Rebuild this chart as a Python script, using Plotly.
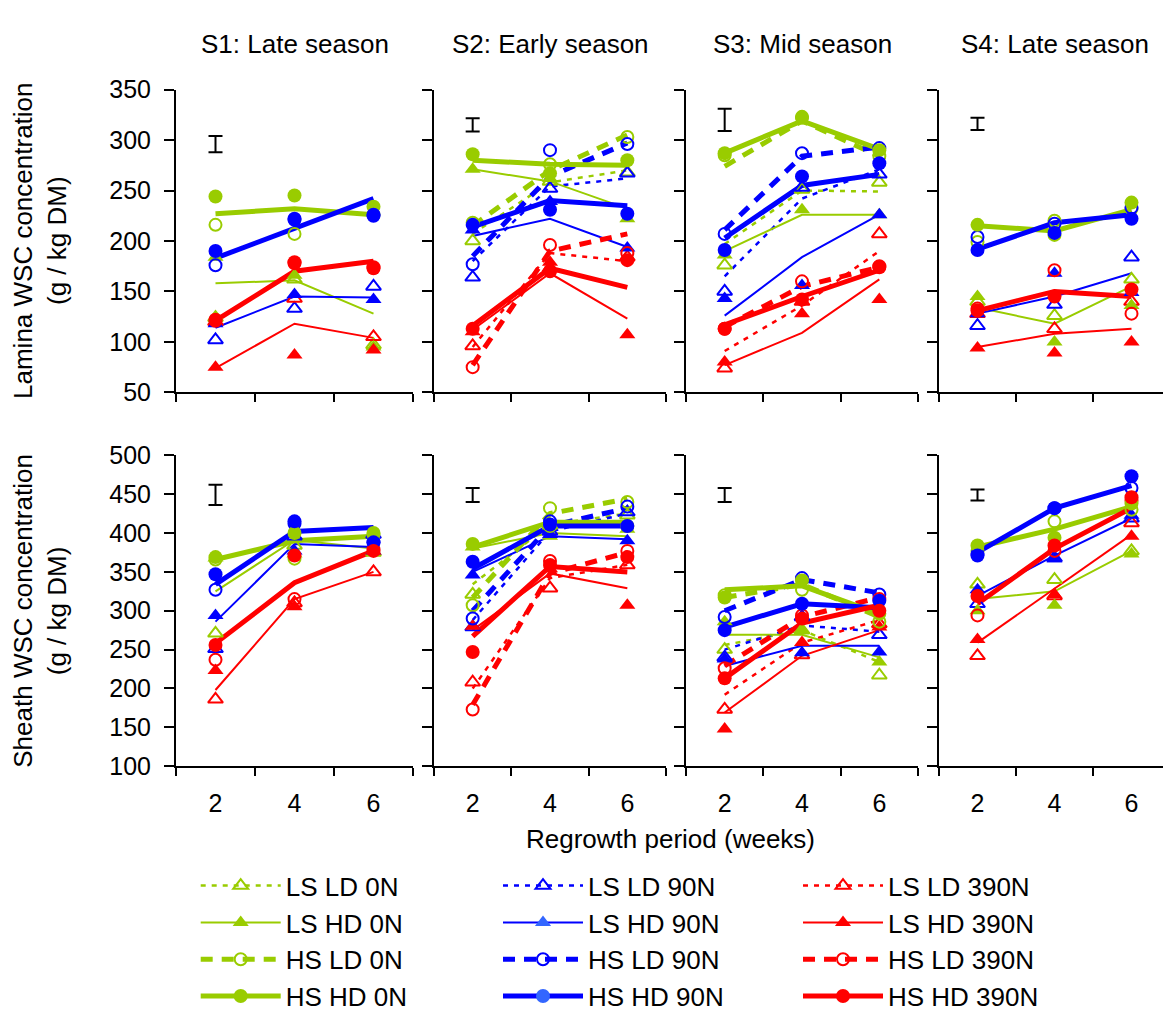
import plotly.graph_objects as go

# ---------------- data ----------------
weeks = [2, 4, 6]
seasons = ["S1: Late season", "S2: Early season", "S3: Mid season", "S4: Late season"]
series = ["LS LD 0N", "LS HD 0N", "HS LD 0N", "HS HD 0N",
          "LS LD 90N", "LS HD 90N", "HS LD 90N", "HS HD 90N",
          "LS LD 390N", "LS HD 390N", "HS LD 390N", "HS HD 390N"]

# Lamina WSC (g/kg DM) - observed means at weeks 2, 4, 6
lamina_s1_obs = {
    "LS LD 0N": [124, 162, 97], "LS HD 0N": [184, 166, 95], "HS LD 0N": [216, 207, 226], "HS HD 0N": [244, 245, 234],
    "LS LD 90N": [102, 133, 155], "LS HD 90N": [118, 147, 142], "HS LD 90N": [176, 221, 225], "HS HD 90N": [190, 222, 226],
    "LS LD 390N": [120, 143, 105], "LS HD 390N": [75, 87, 92], "HS LD 390N": [121, 178, 174], "HS HD 390N": [122, 179, 173]}
lamina_s2_obs = {
    "LS LD 0N": [200, 259, 268], "LS HD 0N": [271, 262, 222], "HS LD 0N": [218, 276, 303], "HS HD 0N": [286, 267, 280],
    "LS LD 90N": [164, 252, 267], "LS HD 90N": [211, 239, 193], "HS LD 90N": [177, 290, 296], "HS HD 90N": [216, 231, 227],
    "LS LD 390N": [96, 173, 184], "LS HD 390N": [110, 179, 107], "HS LD 390N": [75, 196, 188], "HS HD 390N": [113, 170, 181]}
lamina_s3_obs = {
    "LS LD 0N": [176, 251, 258], "LS HD 0N": [186, 231, 226], "HS LD 0N": [285, 322, 284], "HS HD 0N": [287, 323, 290],
    "LS LD 90N": [150, 253, 266], "LS HD 90N": [143, 156, 226], "HS LD 90N": [207, 287, 292], "HS HD 90N": [191, 264, 277],
    "LS LD 390N": [74, 140, 207], "LS HD 390N": [80, 128, 142], "HS LD 390N": [113, 160, 175], "HS HD 390N": [113, 142, 174]}
lamina_s4_obs = {
    "LS LD 0N": [140, 126, 162], "LS HD 0N": [145, 100, 136], "HS LD 0N": [199, 220, 232], "HS HD 0N": [216, 206, 238],
    "LS LD 90N": [116, 137, 184], "LS HD 90N": [128, 168, 149], "HS LD 90N": [204, 217, 233], "HS HD 90N": [191, 208, 222],
    "LS LD 390N": [128, 113, 140], "LS HD 390N": [94, 89, 100], "HS LD 390N": [133, 171, 128], "HS HD 390N": [131, 145, 152]}

# Lamina WSC - fitted response lines (missing key = no line drawn)
lamina_s1_fit = {
    "LS HD 0N": [158, 161, 128], "HS HD 0N": [227, 232, 226],
    "LS HD 90N": [114, 145, 144], "HS HD 90N": [183, 213, 242],
    "LS HD 390N": [74, 118, 104], "HS HD 390N": [121, 170, 180]}
lamina_s2_fit = {
    "LS LD 0N": [207, 258, 270], "LS HD 0N": [271, 259, 232], "HS LD 0N": [215, 270, 305], "HS HD 0N": [280, 276, 275],
    "LS LD 90N": [180, 254, 262], "LS HD 90N": [205, 222, 194], "HS LD 90N": [185, 264, 297], "HS HD 90N": [214, 240, 235],
    "LS LD 390N": [95, 188, 180], "LS HD 390N": [112, 168, 123], "HS LD 390N": [77, 190, 207], "HS HD 390N": [116, 173, 154]}
lamina_s3_fit = {
    "LS LD 0N": [197, 250, 249], "LS HD 0N": [190, 226, 226], "HS LD 0N": [274, 319, 284], "HS HD 0N": [287, 319, 291],
    "LS LD 90N": [165, 242, 271], "LS HD 90N": [126, 184, 226], "HS LD 90N": [211, 284, 293], "HS HD 90N": [203, 255, 266],
    "LS LD 390N": [91, 136, 190], "LS HD 390N": [77, 109, 162], "HS LD 390N": [115, 155, 174], "HS HD 390N": [117, 145, 171]}
lamina_s4_fit = {
    "LS HD 0N": [134, 118, 155], "HS HD 0N": [215, 210, 231],
    "LS HD 90N": [128, 145, 168], "HS HD 90N": [192, 218, 226],
    "LS HD 390N": [95, 108, 113], "HS HD 390N": [131, 150, 145]}

# Sheath WSC (g/kg DM) - observed means
sheath_s1_obs = {
    "LS LD 0N": [271, 384, 375], "LS HD 0N": [368, 373, 377], "HS LD 0N": [366, 367, 398], "HS HD 0N": [369, 400, 400],
    "LS LD 90N": [251, 396, 398], "LS HD 90N": [294, 377, 377], "HS LD 90N": [327, 412, 388], "HS HD 90N": [347, 415, 388],
    "LS LD 390N": [186, 310, 350], "LS HD 390N": [223, 305, 377], "HS LD 390N": [237, 315, 379], "HS HD 390N": [256, 371, 377]}
sheath_s2_obs = {
    "LS LD 0N": [321, 410, 423], "LS HD 0N": [382, 396, 405], "HS LD 0N": [307, 432, 440], "HS HD 0N": [386, 409, 409],
    "LS LD 90N": [279, 402, 427], "LS HD 90N": [346, 398, 390], "HS LD 90N": [290, 415, 434], "HS HD 90N": [363, 411, 409],
    "LS LD 390N": [208, 329, 359], "LS HD 390N": [280, 354, 307], "HS LD 390N": [173, 364, 377], "HS HD 390N": [247, 359, 369]}
sheath_s3_obs = {
    "LS LD 0N": [250, 275, 217], "LS HD 0N": [286, 275, 234], "HS LD 0N": [320, 327, 286], "HS HD 0N": [317, 339, 296],
    "LS LD 90N": [240, 292, 269], "LS HD 90N": [238, 246, 247], "HS LD 90N": [292, 342, 321], "HS HD 90N": [275, 309, 313],
    "LS LD 390N": [173, 243, 283], "LS HD 390N": [148, 259, 279], "HS LD 390N": [226, 294, 315], "HS HD 390N": [213, 290, 300]}
sheath_s4_obs = {
    "LS LD 0N": [334, 340, 377], "LS HD 0N": [300, 307, 373], "HS LD 0N": [377, 415, 430], "HS HD 0N": [384, 394, 438],
    "LS LD 90N": [309, 368, 419], "LS HD 90N": [327, 367, 423], "HS LD 90N": [373, 432, 458], "HS HD 90N": [371, 432, 473],
    "LS LD 390N": [242, 319, 413], "LS HD 390N": [263, 321, 396], "HS LD 390N": [294, 377, 442], "HS HD 390N": [319, 384, 446]}

# Sheath WSC - fitted response lines
sheath_s1_fit = {
    "LS HD 0N": [325, 391, 380], "HS HD 0N": [366, 390, 396],
    "LS HD 90N": [286, 386, 382], "HS HD 90N": [334, 402, 407],
    "LS HD 390N": [198, 315, 350], "HS HD 390N": [258, 336, 377]}
sheath_s2_fit = {
    "LS LD 0N": [334, 411, 425], "LS HD 0N": [380, 400, 396], "HS LD 0N": [317, 425, 444], "HS HD 0N": [382, 414, 414],
    "LS LD 90N": [288, 402, 425], "LS HD 90N": [350, 396, 392], "HS LD 90N": [300, 409, 432], "HS HD 90N": [354, 409, 409],
    "LS LD 390N": [200, 342, 359], "LS HD 390N": [275, 348, 329], "HS LD 390N": [179, 348, 375], "HS HD 390N": [267, 357, 350]}
sheath_s3_fit = {
    "LS LD 0N": [256, 275, 234], "LS HD 0N": [269, 269, 240], "HS LD 0N": [317, 334, 292], "HS HD 0N": [327, 332, 296],
    "LS LD 90N": [250, 281, 273], "LS HD 90N": [229, 255, 255], "HS LD 90N": [300, 340, 323], "HS HD 90N": [279, 309, 304],
    "LS LD 390N": [192, 259, 288], "LS HD 390N": [169, 242, 275], "HS LD 390N": [229, 292, 317], "HS HD 390N": [213, 284, 307]}
sheath_s4_fit = {
    "LS HD 0N": [315, 325, 377], "HS HD 0N": [382, 405, 434],
    "LS HD 90N": [319, 371, 419], "HS HD 90N": [375, 432, 461],
    "LS HD 390N": [259, 329, 398], "HS HD 390N": [309, 380, 432]}

# LSD bars (full length) and their mid-points
lamina_lsd = [16, 13, 22, 12]
lamina_lsd_mid = [296, 315, 320, 316]
sheath_lsd = [26, 18, 18, 14]
sheath_lsd_mid = [449, 449, 449, 449]

lamina_yticks = [50, 100, 150, 200, 250, 300, 350]
sheath_yticks = [100, 150, 200, 250, 300, 350, 400, 450, 500]
x_ticklabels = ["2", "4", "6"]

# ---------------- styling ----------------
W, H = 1163, 1025
FONT = "Liberation Sans, Arial, sans-serif"
N_COLOR = {"0N": "#99CC00", "90N": "#0000FF", "390N": "#FF0000"}
LEG_FILL = {"0N": "#99CC00", "90N": "#3366FF", "390N": "#FF0000"}


def style(name, legend=False):
    s, d, n = name.split()
    c = N_COLOR[n]
    fc = LEG_FILL[n] if legend else c
    if s == "LS" and d == "LD":
        line = dict(color=c, width=2.5, dash="5px,6px")
        marker = dict(symbol="triangle-up-open", size=13, color=c, line=dict(color=c, width=2))
    elif s == "LS":
        line = dict(color=c, width=2)
        marker = dict(symbol="triangle-up", size=14, color=fc, line=dict(width=0))
    elif d == "LD":
        line = dict(color=c, width=5, dash="12px,9px")
        marker = dict(symbol="circle-open", size=12, color=c, line=dict(color=c, width=2))
    else:
        line = dict(color=c, width=5)
        marker = dict(symbol="circle", size=14, color=fc, line=dict(width=0))
    return line, marker


XDOM = [(176, 413), (434, 666), (686, 918), (939, 1163)]
XRANGE = [[1, 7], [1, 7], [1, 7], [1, 1 + (1163 - 939) / 38.5]]
ROWS = [
    dict(obs=[lamina_s1_obs, lamina_s2_obs, lamina_s3_obs, lamina_s4_obs],
         fit=[lamina_s1_fit, lamina_s2_fit, lamina_s3_fit, lamina_s4_fit],
         lsd=lamina_lsd, lsd_mid=lamina_lsd_mid, ydom=(77.7, 389), yrange=[50, 350],
         yticks=lamina_yticks, title="Lamina WSC concentration<br>(g / kg DM)"),
    dict(obs=[sheath_s1_obs, sheath_s2_obs, sheath_s3_obs, sheath_s4_obs],
         fit=[sheath_s1_fit, sheath_s2_fit, sheath_s3_fit, sheath_s4_fit],
         lsd=sheath_lsd, lsd_mid=sheath_lsd_mid, ydom=(453.7, 773.3), yrange=[100, 500],
         yticks=sheath_yticks, title="Sheath WSC concentration<br>(g / kg DM)"),
]

fig = go.Figure()
layout = dict(width=W, height=H, margin=dict(l=0, r=0, t=0, b=0),
              paper_bgcolor="white", plot_bgcolor="white",
              font=dict(family=FONT, size=25, color="black"))
annotations = []

draw_order = ["LS LD", "LS HD", "HS LD", "HS HD"]

for r, row in enumerate(ROWS):
    for c in range(4):
        idx = r * 4 + c + 1
        xs = "x" if idx == 1 else f"x{idx}"
        ys = "y" if idx == 1 else f"y{idx}"
        xa = "xaxis" if idx == 1 else f"xaxis{idx}"
        ya = "yaxis" if idx == 1 else f"yaxis{idx}"
        layout[xa] = dict(
            domain=[XDOM[c][0] / W, XDOM[c][1] / W], range=XRANGE[c], anchor=ys,
            showline=True, linecolor="black", linewidth=2, showgrid=False, zeroline=False,
            tickmode="array", tickvals=weeks, ticktext=x_ticklabels, ticks="",
            showticklabels=(r == 1), ticklabelstandoff=14,
            tickfont=dict(family=FONT, size=25, color="black"),
            minor=dict(tickmode="array", tickvals=[1, 3, 5, 7], ticks="outside", ticklen=8,
                       tickwidth=2, tickcolor="black", showgrid=False),
        )
        layout[ya] = dict(
            domain=[1 - row["ydom"][1] / H, 1 - row["ydom"][0] / H], range=row["yrange"], anchor=xs,
            showline=True, linecolor="black", linewidth=2, showgrid=False, zeroline=False,
            tickmode="array", tickvals=row["yticks"], ticks="outside", ticklen=10, tickwidth=2,
            tickcolor="black", showticklabels=(c == 0), ticklabelstandoff=8,
            tickfont=dict(family=FONT, size=25, color="black"),
        )
        obs = row["obs"][c]
        fit = row["fit"][c]
        # fitted lines
        for grp in draw_order:
            for name in series:
                if not name.startswith(grp):
                    continue
                if fit.get(name) is None:
                    continue
                line, _ = style(name)
                fig.add_trace(go.Scatter(x=weeks, y=fit[name], mode="lines", line=line,
                                         xaxis=xs, yaxis=ys, showlegend=False, hoverinfo="skip"))
        # observed means
        for grp in draw_order:
            for name in series:
                if not name.startswith(grp):
                    continue
                _, marker = style(name)
                fig.add_trace(go.Scatter(x=weeks, y=obs[name], mode="markers", marker=marker,
                                         xaxis=xs, yaxis=ys, showlegend=False, name=name))
        # LSD bar
        fig.add_trace(go.Scatter(x=[2], y=[row["lsd_mid"][c]], mode="markers",
                                 marker=dict(size=1, color="rgba(0,0,0,0)"),
                                 error_y=dict(type="data", array=[row["lsd"][c] / 2], color="black",
                                              thickness=2, width=7),
                                 xaxis=xs, yaxis=ys, showlegend=False, hoverinfo="skip"))
        if r == 0:
            annotations.append(dict(text=seasons[c], x=4, xref=xs, y=1 - 31 / H, yref="paper",
                                    showarrow=False, font=dict(family=FONT, size=26, color="black"),
                                    xanchor="center", yanchor="middle"))
    annotations.append(dict(text=row["title"], x=40 / W, xref="paper",
                            y=1 - (row["ydom"][0] + row["ydom"][1]) / 2 / H, yref="paper",
                            textangle=-90, showarrow=False, xanchor="center", yanchor="middle",
                            font=dict(family=FONT, size=26, color="black")))

annotations.append(dict(text="Regrowth period (weeks)", x=670 / W, xref="paper", y=1 - 848 / H,
                        yref="paper", showarrow=False, xanchor="center", yanchor="middle",
                        font=dict(family=FONT, size=26, color="black")))

# legend: three columns (one per N rate)
leg_names = {"0N": "legend", "90N": "legend2", "390N": "legend3"}
leg_x = {"0N": 195.7, "90N": 498, "390N": 798}
for name in series:
    n = name.split()[2]
    line, marker = style(name, legend=True)
    fig.add_trace(go.Scatter(x=[None], y=[None], mode="lines+markers", line=line, marker=marker,
                             name=name, legend=leg_names[n], legendgroup=name, showlegend=True))
for n, lg in leg_names.items():
    layout[lg] = dict(x=leg_x[n] / W, xanchor="left", y=1 - 872 / H, yanchor="top",
                      orientation="v", itemwidth=80, tracegroupgap=0,
                      bgcolor="rgba(0,0,0,0)", borderwidth=0,
                      font=dict(family=FONT, size=26, color="black"))

layout["annotations"] = annotations
fig.update_layout(**layout)
fig.write_html("out.html")
